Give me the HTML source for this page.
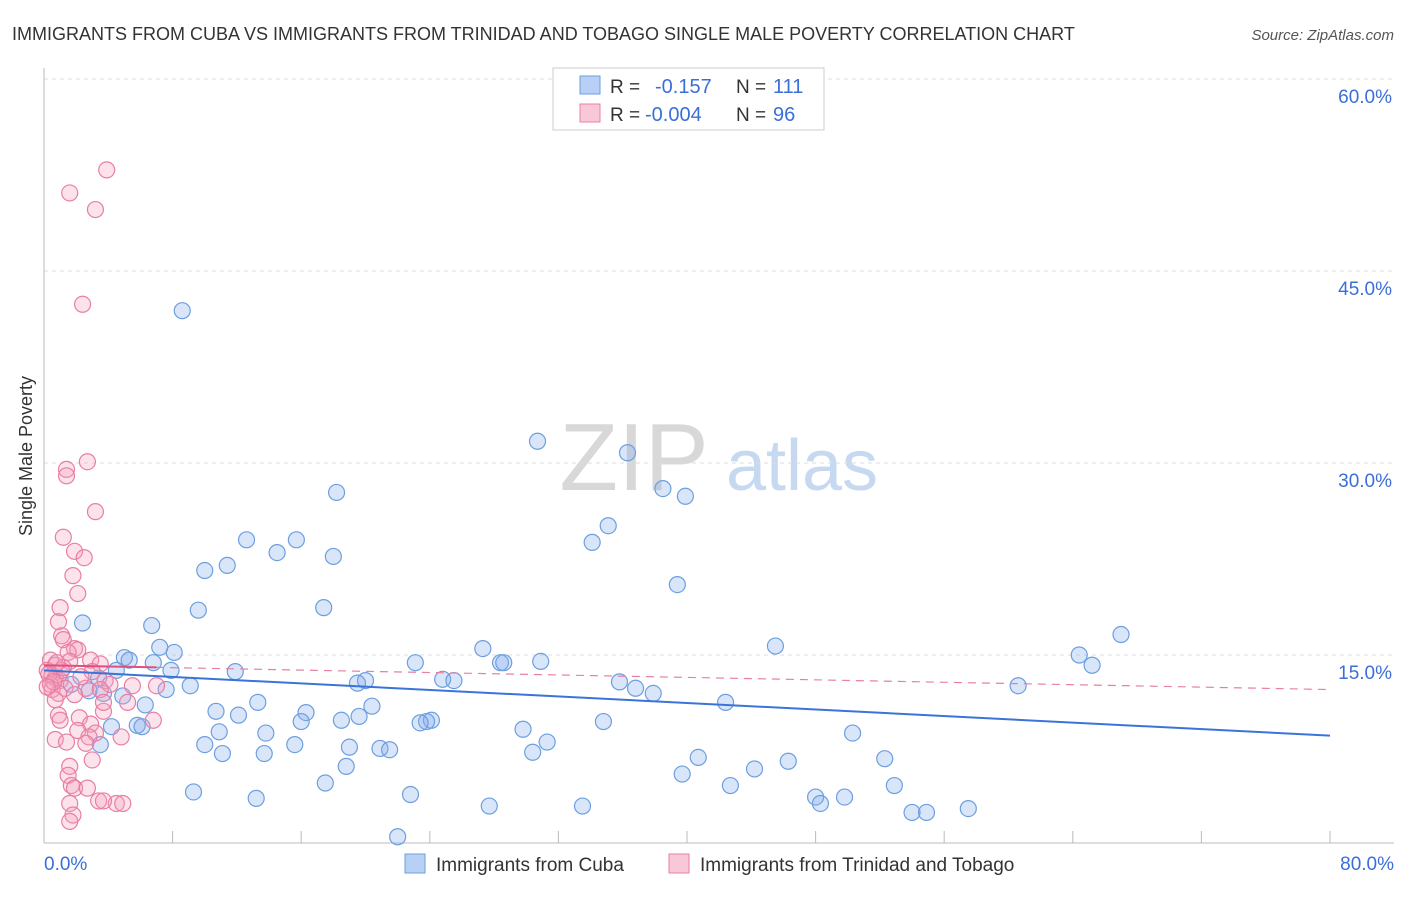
<!DOCTYPE html>
<html><head><meta charset="utf-8">
<style>
body{margin:0;background:#fff;font-family:"Liberation Sans",sans-serif;}
svg text{font-family:"Liberation Sans",sans-serif;}
</style></head>
<body>
<svg id="chart" width="1406" height="892" xmlns="http://www.w3.org/2000/svg">
<text x="12" y="40" font-size="18" fill="#333">IMMIGRANTS FROM CUBA VS IMMIGRANTS FROM TRINIDAD AND TOBAGO SINGLE MALE POVERTY CORRELATION CHART</text>
<text x="1394" y="40" font-size="15" fill="#555" font-style="italic" text-anchor="end">Source: ZipAtlas.com</text>
<text x="32" y="456" font-size="18" fill="#333" text-anchor="middle" transform="rotate(-90 32 456)">Single Male Poverty</text>
<g>
<text x="634" y="490" font-size="96" fill="#d8d8d8" font-family="Liberation Serif" text-anchor="middle">ZIP</text>
<text x="802" y="490" font-size="72" fill="#c6d9f0" text-anchor="middle">atlas</text>
</g>
<g id="grid"></g>
<g id="axes"></g>
<g id="pts"></g>
<g id="trend"></g>
<g>
<rect x="553" y="68" width="271" height="62" fill="#fff" stroke="#ccc"/>
<rect x="580" y="76" width="20" height="18" fill="#b8d0f5" stroke="#6c9fe0"/>
<rect x="580" y="104" width="20" height="18" fill="#f8c8d8" stroke="#e87fa3"/>
<text x="610" y="93" font-size="19" fill="#333">R = </text><text x="655" y="93" font-size="20" fill="#3b6fd8">-0.157</text>
<text x="736" y="93" font-size="19" fill="#333">N = </text><text x="773" y="93" font-size="20" fill="#3b6fd8">111</text>
<text x="610" y="121" font-size="19" fill="#333">R = </text><text x="645" y="121" font-size="20" fill="#3b6fd8">-0.004</text>
<text x="736" y="121" font-size="19" fill="#333">N = </text><text x="773" y="121" font-size="20" fill="#3b6fd8">96</text>
</g>
<g>
<rect x="405" y="854" width="20" height="19" fill="#b8d0f5" stroke="#6c9fe0"/>
<text x="436" y="871" font-size="19" fill="#333">Immigrants from Cuba</text>
<rect x="669" y="854" width="20" height="19" fill="#f8c8d8" stroke="#e87fa3"/>
<text x="700" y="871" font-size="19" fill="#333">Immigrants from Trinidad and Tobago</text>
</g>
</svg>
<script>
const yTicks=[15,30,45,60];
const yTickLabels=["15.0%","30.0%","45.0%","60.0%"];
const xEndLabels=["0.0%","80.0%"];
const cubaX=[8.6,30.7,36.3,18.2,38.5,39.9,35.1,34.1,12.6,15.7,14.5,18.0,11.4,10.0,39.4,9.6,17.4,2.4,6.7,67.0,7.2,8.1,27.3,45.5,64.4,65.2,5.0,5.3,6.8,23.1,28.4,28.6,30.9,4.5,7.9,11.9,3.4,1.7,24.8,25.5,20.0,19.5,35.8,36.8,37.9,60.6,9.1,7.6,2.8,3.7,4.9,6.3,13.3,20.4,16.3,42.4,10.7,12.1,19.6,18.5,16.0,24.1,23.8,23.4,34.8,29.8,10.9,5.8,6.1,4.2,13.8,50.3,31.3,3.5,10.0,15.6,19.0,20.9,21.5,11.1,13.7,30.4,40.7,52.3,46.3,18.8,39.7,44.2,17.5,42.7,52.9,9.3,22.8,13.2,48.0,49.8,48.3,27.7,33.5,57.5,54.0,54.9,22.0];
const cubaY=[41.9,31.7,30.8,27.7,28.0,27.4,25.1,23.8,24.0,24.0,23.0,22.7,22.0,21.6,20.5,18.5,18.7,17.5,17.3,16.6,15.6,15.2,15.5,15.7,15.0,14.2,14.8,14.6,14.4,14.4,14.4,14.4,14.5,13.8,13.8,13.7,13.2,12.7,13.1,13.0,13.0,12.8,12.9,12.4,12.0,12.6,12.6,12.3,12.2,12.0,11.8,11.1,11.3,11.0,10.5,11.3,10.6,10.3,10.2,9.9,9.8,9.9,9.8,9.7,9.8,9.2,9.0,9.5,9.4,9.4,8.9,8.9,8.2,8.0,8.0,8.0,7.8,7.7,7.6,7.3,7.3,7.4,7.0,6.9,6.7,6.3,5.7,6.1,5.0,4.8,4.8,4.3,4.1,3.8,3.9,3.9,3.4,3.2,3.2,3.0,2.7,2.7,0.8];
const triX=[3.9,1.6,3.2,2.4,2.7,1.4,1.4,3.2,1.2,1.9,2.5,1.8,2.1,1.0,0.9,1.1,1.2,1.9,2.1,1.5,0.4,0.7,0.2,0.5,0.7,1.0,0.4,1.3,0.5,0.9,1.6,2.9,3.5,3.8,2.6,1.1,0.7,4.1,3.5,1.9,3.0,0.9,1.0,2.2,3.7,5.2,3.7,2.9,6.8,2.1,3.2,2.8,0.7,1.4,2.6,4.8,3.0,1.6,1.5,1.7,1.9,2.7,1.6,3.4,4.5,4.9,3.7,1.8,1.6,7.0,5.5,0.3,0.6,1.2,2.3,0.2,0.8];
const triY=[52.9,51.1,49.8,42.4,30.1,29.5,29.0,26.2,24.2,23.1,22.6,21.2,19.8,18.7,17.6,16.5,16.2,15.5,15.4,15.2,14.6,14.2,13.8,13.4,13.2,13.0,12.7,12.4,12.3,12.0,14.5,14.6,14.3,13.0,12.4,13.8,11.5,12.7,12.3,11.9,13.7,10.3,9.9,10.1,10.6,11.3,11.3,9.6,9.9,9.1,8.9,8.6,8.4,8.2,8.1,8.6,6.8,6.3,5.6,4.8,4.6,4.6,3.4,3.6,3.4,3.4,3.6,2.5,2.0,12.6,12.6,13.5,12.9,14.0,13.3,12.5,14.4];
const cubaTrend=[13.8,8.7];
const triTrend=[14.2,12.3];
const X0=44,X1=1330,Y0=847,YSCALE=768/60;
const sx=v=>X0+(v/80)*(X1-X0);
const sy=v=>Y0-v*YSCALE;
const NS="http://www.w3.org/2000/svg";
function mk(tag,attrs,parent){const e=document.createElementNS(NS,tag);for(const k in attrs)e.setAttribute(k,attrs[k]);parent.appendChild(e);return e;}
const grid=document.getElementById('grid'),axes=document.getElementById('axes'),pts=document.getElementById('pts'),trend=document.getElementById('trend');
yTicks.forEach((t,i)=>{
 const l=mk('line',{x1:X0,x2:1394,y1:sy(t),y2:sy(t),stroke:'#ddd','stroke-dasharray':'4,4'},grid);
 
 
 const tx=mk('text',{x:1392,y:sy(t)+24,'font-size':19,fill:'#3b6fd8','text-anchor':'end'},axes);
 tx.textContent=yTickLabels[i];
 
 
});
const ax=mk('line',{x1:X0,x2:X0,y1:68,y2:843,stroke:'#bbb'},axes);


const bx=mk('line',{x1:X0,x2:1394,y1:843,y2:843,stroke:'#bbb'},axes);


for(let i=0;i<=10;i++){const v=i*8;const t=mk('line',{x1:sx(v),x2:sx(v),y1:831,y2:843,stroke:'#bbb'},axes);
 
 }
const xl0=mk('text',{x:44,y:870,'font-size':19,fill:'#3b6fd8'},axes);xl0.textContent=xEndLabels[0];


const xl1=mk('text',{x:1394,y:870,'font-size':19,fill:'#3b6fd8','text-anchor':'end'},axes);xl1.textContent=xEndLabels[1];


cubaX.forEach((x,i)=>{const c=mk('circle',{cx:sx(x),cy:sy(cubaY[i]),r:8,fill:'rgba(130,170,235,0.3)',stroke:'#6c9fe0','stroke-width':1.2},pts);
 
 });
triX.forEach((x,i)=>{const c=mk('circle',{cx:sx(x),cy:sy(triY[i]),r:8,fill:'rgba(245,160,190,0.3)',stroke:'#e87fa3','stroke-width':1.2},pts);
 
 });
const tl=mk('line',{x1:sx(0),y1:sy(cubaTrend[0]),x2:sx(80),y2:sy(cubaTrend[1]),stroke:'#3b74d8','stroke-width':2},trend);


const pl=mk('line',{x1:sx(0),y1:sy(triTrend[0]),x2:sx(80),y2:sy(triTrend[1]),stroke:'#e87fa3','stroke-width':1.2,'stroke-dasharray':'8,6'},trend);


const ps=mk('line',{x1:sx(0),y1:sy(triTrend[0]),x2:sx(7),y2:sy(triTrend[0]+(triTrend[1]-triTrend[0])*7/80),stroke:'#e0507e','stroke-width':2},trend);


</script>
</body></html>
